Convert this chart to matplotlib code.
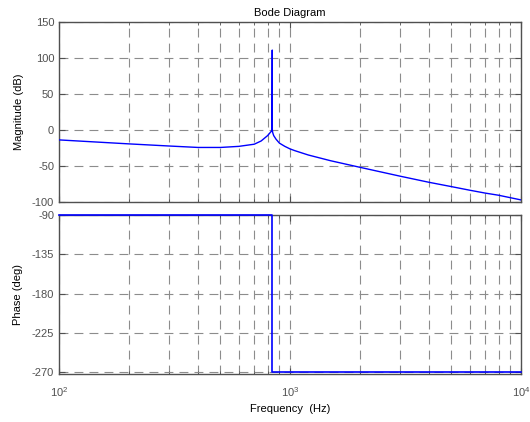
import matplotlib
matplotlib.use('Agg')
import matplotlib.pyplot as plt
from matplotlib.ticker import LogLocator, NullFormatter

plt.rcParams['font.family'] = ['Liberation Sans', 'DejaVu Sans']
plt.rcParams['mathtext.fontset'] = 'custom'
plt.rcParams['mathtext.rm'] = 'Liberation Sans'
plt.rcParams['mathtext.it'] = 'Liberation Sans'
plt.rcParams['axes.unicode_minus'] = False

# magnitude curve (Hz, dB)
mag_freq = [100, 200, 300, 400, 500, 600, 700, 750, 800, 820, 830, 836,
            838, 838.5, 839, 842, 850, 870, 900, 950, 1000, 1050,
            1200, 1500, 2000, 3000, 4000, 5000, 6000, 7000, 8000, 10000]
mag_db = [-14, -19.5, -22.5, -24.5, -24.5, -23, -20, -15.5, -8, -4, -2, -0.5,
          111, 0, -1, -4, -8, -13, -18.5, -23, -26.5, -29,
          -35, -43, -52, -64.5, -73, -79, -84, -88, -91, -97.5]

# phase (Hz, deg)
ph_freq = [100, 838.5, 838.5, 10000]
ph_deg = [-90, -90, -270, -270]

mag_ticks = [150, 100, 50, 0, -50, -100]
ph_ticks = [-90, -135, -180, -225, -270]
freq_ticks = [100, 1000, 10000]
freq_labels = ['$10^{2}$', '$10^{3}$', '$10^{4}$']

fig = plt.figure(figsize=(5.3, 4.22), dpi=100)
ax1 = fig.add_axes([0.1113, 0.522, 0.8717, 0.4258])
ax2 = fig.add_axes([0.1113, 0.1145, 0.8717, 0.376])

grid_kw = dict(color='#8c8c8c', linestyle=(0, (8, 5.5)), linewidth=0.8)

for ax in (ax1, ax2):
    ax.set_xscale('log')
    ax.set_xlim(100, 10000)
    ax.set_xticks(freq_ticks)
    ax.xaxis.set_minor_locator(LogLocator(base=10, subs=range(2, 10)))
    ax.xaxis.set_minor_formatter(NullFormatter())
    ax.grid(True, which='major', **grid_kw)
    ax.grid(True, which='minor', axis='x', **grid_kw)
    ax.tick_params(which='both', direction='in', top=True, right=True,
                   colors='#505050', labelsize=8, length=4)
    ax.tick_params(which='minor', length=2.5)
    for s in ax.spines.values():
        s.set_color('#505050')
        s.set_linewidth(1.0)
    ax.set_axisbelow(True)

ax1.plot(mag_freq, mag_db, color='#0000ff', linewidth=1.0, zorder=3)
ax1.set_ylim(-100, 150)
ax1.set_yticks(mag_ticks)
ax1.set_xticklabels([])
ax1.set_ylabel('Magnitude (dB)', fontsize=8, labelpad=6)
ax1.set_title('Bode Diagram', fontsize=8, pad=4)

ax2.plot(ph_freq, ph_deg, color='#0000ff', linewidth=1.2, zorder=3, clip_on=False)
ax2.set_ylim(-271.5, -90)
ax2.set_yticks(ph_ticks)
ax2.set_xticks(freq_ticks, labels=freq_labels)
ax2.tick_params(axis='x', pad=8)
ax2.set_ylabel('Phase (deg)', fontsize=8, labelpad=6)
ax2.set_xlabel('Frequency  (Hz)', fontsize=8, labelpad=4)

fig.savefig('out.png', dpi=100)
